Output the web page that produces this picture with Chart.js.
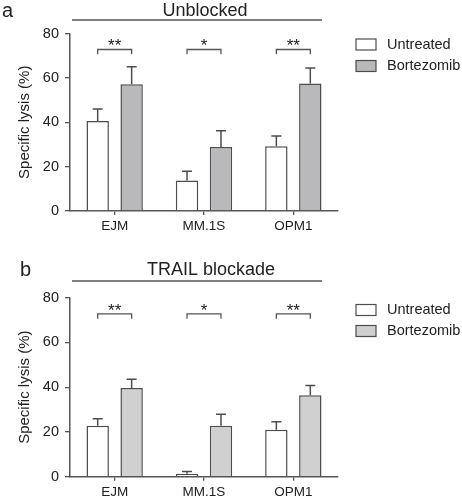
<!DOCTYPE html>
<html>
<head>
<meta charset="utf-8">
<script src="https://cdn.jsdelivr.net/npm/chart.js@4"></script>
<style>
  body { margin: 0; background: #fff; }
  .panel { position: absolute; left: 0; width: 462px; height: 250px; }
</style>
</head>
<body>
<div class="panel" style="top:0"><canvas id="chartA"></canvas></div>
<div class="panel" style="top:250px"><canvas id="chartB"></canvas></div>
<script>
// data (mean and upper SEM, % specific lysis)
var categories = ['EJM', 'MM.1S', 'OPM1']
var seriesNames = ['Untreated', 'Bortezomib']
var significance = ['**', '*', '**']
var yMin = 0
var yMax = 80
var yStep = 20

var unblockedUntreated = [40.6, 13.8, 29.2]
var unblockedUntreatedErr = [5.4, 4.1, 4.6]
var unblockedBortezomib = [57.1, 28.8, 57.5]
var unblockedBortezomibErr = [7.9, 7.4, 6.9]

var blockadeUntreated = [22.8, 1.3, 21.0]
var blockadeUntreatedErr = [3.1, 1.0, 3.6]
var blockadeBortezomib = [39.6, 22.8, 36.4]
var blockadeBortezomibErr = [4.0, 5.1, 4.4]

var textColor = '#222'
var axisColor = '#555'
var barEdge = '#4d4d4d'
var fontFamily = '"Liberation Sans", Arial, Helvetica, sans-serif'

Chart.defaults.font.family = fontFamily
Chart.defaults.font.size = 14
Chart.defaults.color = textColor

// error bars, significance brackets, panel title, legend
var panelPlugin = {
    id: 'panel',
    afterDatasetsDraw: function (chart, args, opts) {
        var ctx = chart.ctx
        var y = chart.scales.y
        ctx.save()
        ctx.strokeStyle = barEdge
        ctx.lineWidth = 1.5
        chart.data.datasets.forEach(function (ds, i) {
            chart.getDatasetMeta(i).data.forEach(function (bar, j) {
                var top = y.getPixelForValue(ds.data[j] + ds.errors[j])
                ctx.beginPath()
                ctx.moveTo(bar.x, bar.y)
                ctx.lineTo(bar.x, top)
                ctx.moveTo(bar.x - 5, top)
                ctx.lineTo(bar.x + 5, top)
                ctx.stroke()
            })
        })

        // brackets
        var m0 = chart.getDatasetMeta(0).data
        var m1 = chart.getDatasetMeta(1).data
        var yTop = y.getPixelForValue(opts.bracketTop)
        var yLeg = y.getPixelForValue(opts.bracketLeg)
        ctx.strokeStyle = axisColor
        ctx.lineWidth = 1.3
        ctx.fillStyle = textColor
        ctx.font = '17px ' + fontFamily
        ctx.textAlign = 'center'
        ctx.textBaseline = 'alphabetic'
        significance.forEach(function (s, j) {
            var x0 = m0[j].x, x1 = m1[j].x
            ctx.beginPath()
            ctx.moveTo(x0, yLeg)
            ctx.lineTo(x0, yTop)
            ctx.lineTo(x1, yTop)
            ctx.lineTo(x1, yLeg)
            ctx.stroke()
            ctx.fillText(s, (x0 + x1) / 2, yTop + 2)
        })
        ctx.restore()
    },
    afterDraw: function (chart, args, opts) {
        var ctx = chart.ctx
        ctx.save()
        ctx.fillStyle = textColor
        ctx.textBaseline = 'middle'

        ctx.font = '20px ' + fontFamily
        ctx.textAlign = 'left'
        ctx.fillText(opts.letter, opts.letterX, opts.letterY)

        ctx.font = '18px ' + fontFamily
        ctx.textAlign = 'center'
        ctx.fillText(opts.title, opts.titleX, opts.titleY)

        ctx.strokeStyle = axisColor
        ctx.lineWidth = 1.5
        ctx.beginPath()
        ctx.moveTo(72, opts.lineY)
        ctx.lineTo(322, opts.lineY)
        ctx.stroke()

        // legend
        ctx.font = '14.5px ' + fontFamily
        ctx.textAlign = 'left'
        chart.data.datasets.forEach(function (ds, i) {
            var cy = opts.legendY[i]
            ctx.fillStyle = ds.backgroundColor
            ctx.fillRect(356, cy - 5.5, 20, 11)
            ctx.strokeStyle = barEdge
            ctx.lineWidth = 1.2
            ctx.strokeRect(356, cy - 5.5, 20, 11)
            ctx.fillStyle = textColor
            ctx.fillText(ds.label, 387, cy)
        })
        ctx.restore()
    }
}

function makeChart(id, untreated, untreatedErr, bortezomib, bortezomibErr, bortColor, panel, topPad, xAxisH) {
    var ctx = document.getElementById(id).getContext('2d')
    return new Chart(ctx, {
        type: 'bar',
        data: {
            labels: categories,
            datasets: [{
                label: seriesNames[0],
                data: untreated,
                errors: untreatedErr,
                backgroundColor: '#ffffff',
                borderColor: barEdge,
                borderWidth: 1.5
            }, {
                label: seriesNames[1],
                data: bortezomib,
                errors: bortezomibErr,
                backgroundColor: bortColor,
                borderColor: barEdge,
                borderWidth: 1.5
            }]
        },
        options: {
            responsive: true,
            maintainAspectRatio: false,
            animation: false,
            categoryPercentage: 0.76,
            barPercentage: 0.66,
            layout: { padding: { top: topPad, right: 124, bottom: 0, left: 0 } },
            plugins: {
                legend: { display: false },
                tooltip: { enabled: false },
                panel: panel
            },
            scales: {
                x: {
                    afterFit: function (s) { s.height = xAxisH },
                    grid: { display: true, drawOnChartArea: false, offset: false, tickLength: 4, color: axisColor, lineWidth: 1.3 },
                    border: { display: true, color: axisColor, width: 1.5 },
                    ticks: { padding: 3, color: textColor, font: { size: 13.5 } }
                },
                y: {
                    min: yMin,
                    max: yMax,
                    afterFit: function (s) { s.width = 70 },
                    grid: { display: true, drawOnChartArea: false, tickLength: 5, color: axisColor, lineWidth: 1.3 },
                    border: { display: true, color: axisColor, width: 1.5 },
                    ticks: { stepSize: yStep, padding: 6, color: textColor, font: { size: 14.5 } },
                    title: { display: true, text: 'Specific lysis (%)', color: textColor, font: { size: 15 }, padding: { top: 16, bottom: 0 } }
                }
            }
        },
        plugins: [panelPlugin]
    })
}

makeChart('chartA', unblockedUntreated, unblockedUntreatedErr, unblockedBortezomib, unblockedBortezomibErr, '#b9b9bc',
    { letter: 'a', letterX: 2, letterY: 11, title: 'Unblocked', titleX: 205, titleY: 11, lineY: 20,
      legendY: [44.5, 66], bracketTop: 72.8, bracketLeg: 70.6 }, 33.5, 39)

makeChart('chartB', blockadeUntreated, blockadeUntreatedErr, blockadeBortezomib, blockadeBortezomibErr, '#d0d0d0',
    { letter: 'b', letterX: 20, letterY: 20, title: 'TRAIL blockade', titleX: 211, titleY: 20, lineY: 31,
      legendY: [60, 81], bracketTop: 72.8, bracketLeg: 70.6 }, 47.7, 23.3)
</script>
</body>
</html>
